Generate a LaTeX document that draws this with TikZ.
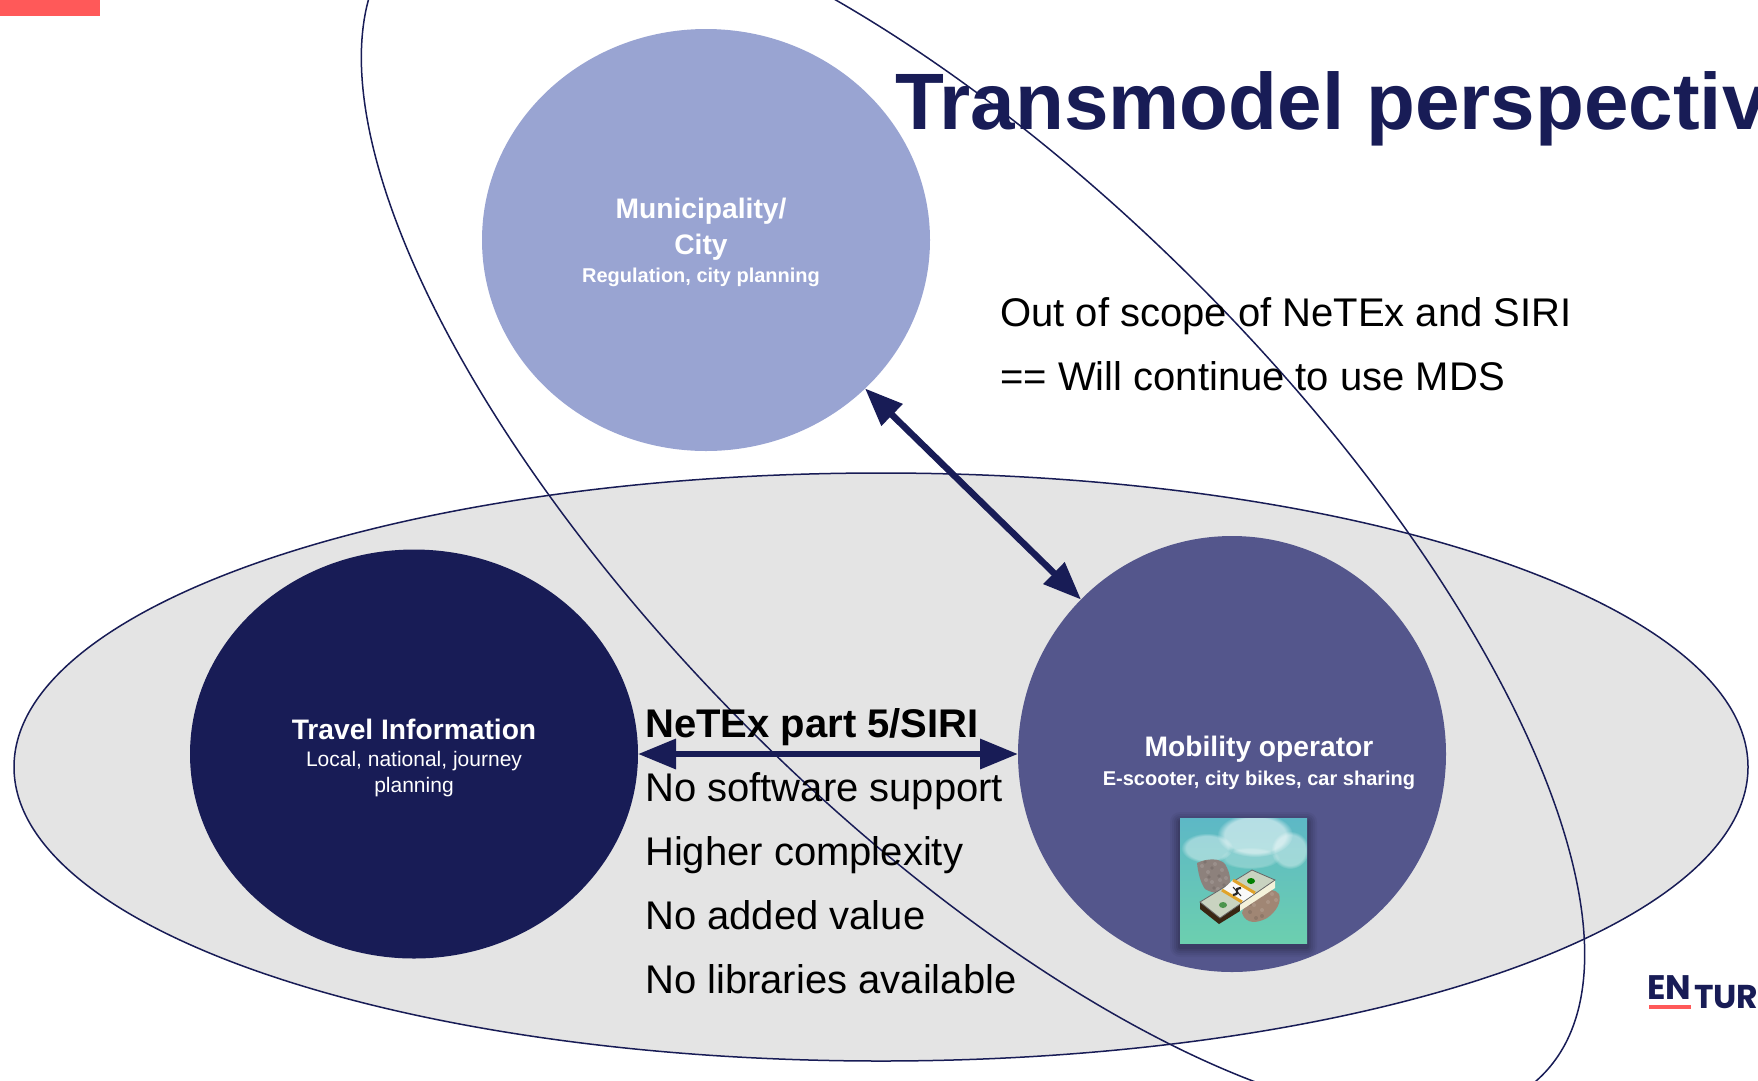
\documentclass[tikz,border=0pt]{standalone}
\usepackage{fontspec}
\setmainfont{Liberation Sans}
\newfontfamily\logofont{Poppins}
\usetikzlibrary{arrows.meta,shapes.geometric,fadings}
\definecolor{navy}{HTML}{181C56}
\definecolor{muni}{HTML}{99A4D2}
\definecolor{mobil}{HTML}{54568C}
\definecolor{palegray}{HTML}{E4E4E4}
\definecolor{coral}{HTML}{FF5959}
\definecolor{skytop}{HTML}{5DB8C6}
\definecolor{skymid}{HTML}{66CCBA}
\definecolor{skylow}{HTML}{6CCFAF}
\definecolor{furA}{HTML}{8D817C}
\definecolor{furB}{HTML}{A08674}
\definecolor{notegreen}{HTML}{C9D3C0}
\definecolor{strap}{HTML}{E0A32A}
\newcommand{\fs}[1]{\fontsize{#1}{#1}\selectfont}
\tikzset{
  blob/.style={shape=ellipse,inner sep=0pt,outer sep=0pt},
  scope outline/.style={blob,draw=navy,line width=1.5pt},
  twoway/.style={{Triangle[length=38pt,width=29pt]}-{Triangle[length=38pt,width=29pt]},draw=navy,line width=6.5pt},
  head/.style={text=white,font=\fs{28.2}\bfseries,inner sep=0pt},
  subbold/.style={text=white,font=\fs{20}\bfseries,inner sep=0pt},
  subplain/.style={text=white,font=\fs{21},inner sep=0pt},
  body/.style={text=black,font=\fs{40},inner sep=0pt,anchor=base west},
  bodybold/.style={text=black,font=\fs{40}\bfseries,inner sep=0pt,anchor=base west},
  cloud/.style={fill=white,path fading=circle with fuzzy edge 20 percent},
}
\begin{document}
\begin{tikzpicture}[x=1pt,y=-1pt]
\useasboundingbox (0,0) rectangle (1758,1080);
\clip (0,0) rectangle (1758,1080);
\fill[white] (0,0) rectangle (1758,1080);
\fill[coral] (0,0) rectangle (100,15.5);

\node[blob,fill=palegray,draw=navy,line width=1.5pt,minimum width=1734pt,minimum height=588pt] (field) at (881,767) {};
\node[scope outline,minimum width=1610pt,minimum height=632pt,rotate=-45] (scopeoval) at (973,506) {};

\node[blob,fill=muni,minimum width=448pt,minimum height=422pt] (city) at (706,240) {};
\node[blob,fill=navy,minimum width=448pt,minimum height=409pt] (travel) at (414,754) {};
\node[blob,fill=mobil,minimum width=428pt,minimum height=436pt] (mobility) at (1232,754) {};

\node[text=navy,font=\fs{80}\bfseries,inner sep=0pt,anchor=base west] (title) at (895,129) {Transmodel perspective};

\node[head] (cityhead) at (701,211) {Municipality/};
\node[head] (cityhead2) at (701,247) {City};
\node[subbold] (citysub) at (701,277) {Regulation, city planning};

\node[head] (travelhead) at (414,729) {Travel Information};
\node[subplain] (travelsub) at (414,761) {Local, national, journey};
\node[subplain] (travelsub2) at (414,787) {planning};

\node[head] (mobhead) at (1259,749) {Mobility operator};
\node[subbold] (mobsub) at (1259,780.5) {E-scooter, city bikes, car sharing};

\node[body] (scope1) at (1000,326) {Out of scope of NeTEx and SIRI};
\node[body] (scope2) at (1000,390) {== Will continue to use MDS};

\node[bodybold] (netex) at (645,737) {NeTEx part 5/SIRI};
\node[body] (l1) at (645,801) {No software support};
\node[body] (l2) at (645,865) {Higher complexity};
\node[body] (l3) at (645,929) {No added value};
\node[body] (l4) at (645,993) {No libraries available};

\draw[twoway,transform canvas={shift={(3.5pt,3.5pt)}}] (city) -- (mobility);
\draw[twoway] (travel.east) -- (mobility.west);

% emoji picture: money with wings
\foreach \d/\o in {10/.04,8/.05,6/.06,4/.07,2/.08}
  \fill[black,opacity=\o,rounded corners=\d pt] (1180-\d,818-\d+4) rectangle (1307+\d,943+\d+4);
\begin{scope}
  \clip (1180,818) rectangle (1307,943);
  \shade[top color=skytop,middle color=skymid,bottom color=skylow] (1180,818) rectangle (1307,943);
  \fill[cloud,opacity=.55] (1255,835) ellipse [x radius=38pt,y radius=22pt];
  \fill[cloud,opacity=.4] (1207,848) ellipse [x radius=26pt,y radius=15pt];
  \fill[cloud,opacity=.4] (1290,850) ellipse [x radius=19pt,y radius=19pt];
  \fill[cloud,opacity=.25] (1250,858) ellipse [x radius=30pt,y radius=11pt];
  % wings
  \fill[furA] (1197,863) .. controls (1207,858) and (1220,858) .. (1225,864) .. controls (1231,874) and (1232,884) .. (1226,889) .. controls (1220,895) and (1212,893) .. (1205,889) .. controls (1200,882) and (1198,872) .. (1197,863) -- cycle;
  \foreach \p/\q in {1202/866,1208/872,1215/864,1222/870,1212/882,1220/880,1206/880,1218/889,1226/878}
    \fill[white,opacity=.12] (\p,\q) circle [radius=2pt];
  \foreach \p/\q in {1205/862,1212/868,1219/876,1209/877,1224/885,1214/888}
    \fill[black,opacity=.1] (\p,\q) circle [radius=1.8pt];
  \fill[furB] (1242,913) .. controls (1245,903) and (1250,896) .. (1258,892) .. controls (1266,889) and (1276,889) .. (1279,894) .. controls (1282,902) and (1276,912) .. (1267,918) .. controls (1258,923) and (1246,925) .. (1242,913) -- cycle;
  \foreach \p/\q in {1262/895,1272/894,1268/902,1276/900,1254/905,1262/910}
    \fill[white,opacity=.12] (\p,\q) circle [radius=2pt];
  \foreach \p/\q in {1250/912,1256/918,1262/916,1250/904}
    \fill[black,opacity=.1] (\p,\q) circle [radius=2pt];
  % bundle
  \fill[black!70!brown] (1200,902) -- (1200,909) -- (1219,924) -- (1240,911) -- (1240,900) -- cycle;
  \fill[white!88!yellow!90!gray] (1240,902) -- (1275,880) -- (1275,888) -- (1240,911) -- cycle;
  \fill[notegreen] (1200,902) -- (1252,870) -- (1275,880) -- (1220,918) -- cycle;
  \draw[black!60,line width=.8pt] (1200,902) -- (1252,870) -- (1275,880) -- (1220,918) -- cycle;
  \fill[black!30!green!40!gray] (1223,905) ellipse [x radius=4pt,y radius=3pt];
  \fill[green!50!black] (1251,881) ellipse [x radius=4pt,y radius=3pt];
  \fill[white!95!gray] (1222,890) -- (1233,880) -- (1255,893) -- (1242,902) -- cycle;
  \draw[strap,line width=3pt] (1222,890) -- (1242,902);
  \draw[strap,line width=3pt] (1233,880) -- (1255,893);
  \draw[black!85,line width=2.2pt] (1233,895) .. controls (1243,893) and (1231,889) .. (1241,888);
  \draw[black!85,line width=1pt] (1233,887) -- (1241,896);
  % furred wing tips overlap the bundle edge
\end{scope}

% logo
\fill[coral] (1649,1005) rectangle (1691,1009);
\node[text=navy,font=\logofont\fs{34}\bfseries,inner sep=0pt,anchor=base west] (logoen) at (1647,999) {EN};
\node[text=navy,font=\logofont\fs{33}\bfseries,inner sep=0pt,anchor=base west] (logotur) at (1694,1008) {TUR};
\end{tikzpicture}
\end{document}
